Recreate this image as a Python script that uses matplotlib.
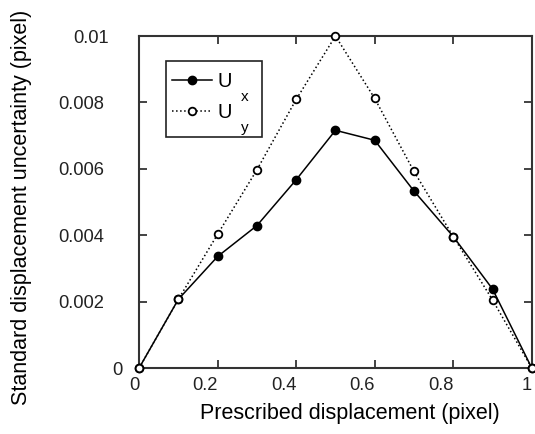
import matplotlib
matplotlib.use("Agg")
import matplotlib.pyplot as plt
from matplotlib.transforms import Affine2D, Bbox
from matplotlib.patches import Rectangle

plt.rcParams["font.family"] = ["Liberation Sans", "DejaVu Sans"]

# prescribed displacement and the measured uncertainties
disp = [0.0, 0.1, 0.2, 0.3, 0.4, 0.5, 0.6, 0.7, 0.8, 0.9, 1.0]
ux = [0.0, 0.00207, 0.00336, 0.00429, 0.00567, 0.00716, 0.00686, 0.00533, 0.00396, 0.00238, 0.0]
uy = [0.0, 0.00207, 0.00403, 0.00597, 0.00809, 0.01, 0.00812, 0.00592, 0.00396, 0.00205, 0.0]

xticks = [0, 0.2, 0.4, 0.6, 0.8, 1]
xlabels = ["0", "0.2", "0.4", "0.6", "0.8", "1"]
yticks = [0, 0.002, 0.004, 0.006, 0.008, 0.01]
ylabels = ["0", "0.002", "0.004", "0.006", "0.008", "0.01"]
subs = ["x", "y"]

fig = plt.figure(figsize=(5.35, 4.34), dpi=100)
ax = fig.add_axes([0.26, 0.152, 0.734, 0.765])

ax.plot(disp, ux, "-", color="black", lw=1.1, marker="o", ms=6,
        mfc="black", mec="black", label="U", clip_on=False, zorder=3)
ax.plot(disp, uy, ":", color="black", lw=1.1, marker="o", ms=5.5,
        mfc="white", mec="black", mew=1.3, label="U", clip_on=False, zorder=4)

ax.set_xlim(0, 1)
ax.set_ylim(0, 0.01)
ax.set_xticks(xticks)
ax.set_xticklabels(xlabels)
ax.set_yticks(yticks)
ax.set_yticklabels(ylabels)
ax.tick_params(direction="in", top=True, right=True, length=6, width=1.2,
               labelsize=13.2, colors="#222222")
ax.tick_params(axis="x", pad=6.2)
ax.tick_params(axis="y", pad=8.6)
for s in ax.spines.values():
    s.set_linewidth(1.5)
    s.set_color("#333333")

ax.set_xlabel("Prescribed displacement (pixel)", fontsize=15.5, va="top")
ax.xaxis.set_label_coords(0.537, -0.105)
ax.set_ylabel("Standard displacement uncertainty (pixel)", fontsize=15.5)
ax.yaxis.set_label_coords(-0.272, 0.485)

leg = ax.legend(loc="upper left", bbox_to_anchor=(0.084, 0.892), fontsize=14.5,
                frameon=False, handlelength=2.0, handletextpad=0.25,
                borderpad=0, borderaxespad=0, labelspacing=0.6)

# subscripts hang well below the legend letters
sub_texts = []
for t, s in zip(leg.get_texts(), subs):
    a = ax.annotate(s, xy=(1, 0), xycoords=t, xytext=(6.5, -7),
                    textcoords="offset points", fontsize=11,
                    ha="left", va="baseline")
    sub_texts.append(a)

fig.canvas.draw()
r = fig.canvas.get_renderer()

# tick labels sit left of their nominal spot
for lbl in ax.get_xticklabels():
    w = lbl.get_window_extent(r).width
    lbl.set_transform(lbl.get_transform() + Affine2D().translate(-w / 2, 0))
for lbl in ax.get_yticklabels():
    w = lbl.get_window_extent(r).width
    lbl.set_transform(lbl.get_transform() + Affine2D().translate(-w / 2, 0))

# frame around legend entries and their subscripts
bb = Bbox.union([leg.get_window_extent(r)] + [a.get_window_extent(r) for a in sub_texts])
bb = Bbox.from_extents(bb.x0 - 6, bb.y0 - 2, bb.x1 + 14, bb.y1 + 11)
bb = bb.transformed(ax.transAxes.inverted())
ax.add_patch(Rectangle((bb.x0, bb.y0), bb.width, bb.height, transform=ax.transAxes,
                       fill=False, lw=1.2, ec="#222222", zorder=5))

fig.savefig("out.png", dpi=100)
